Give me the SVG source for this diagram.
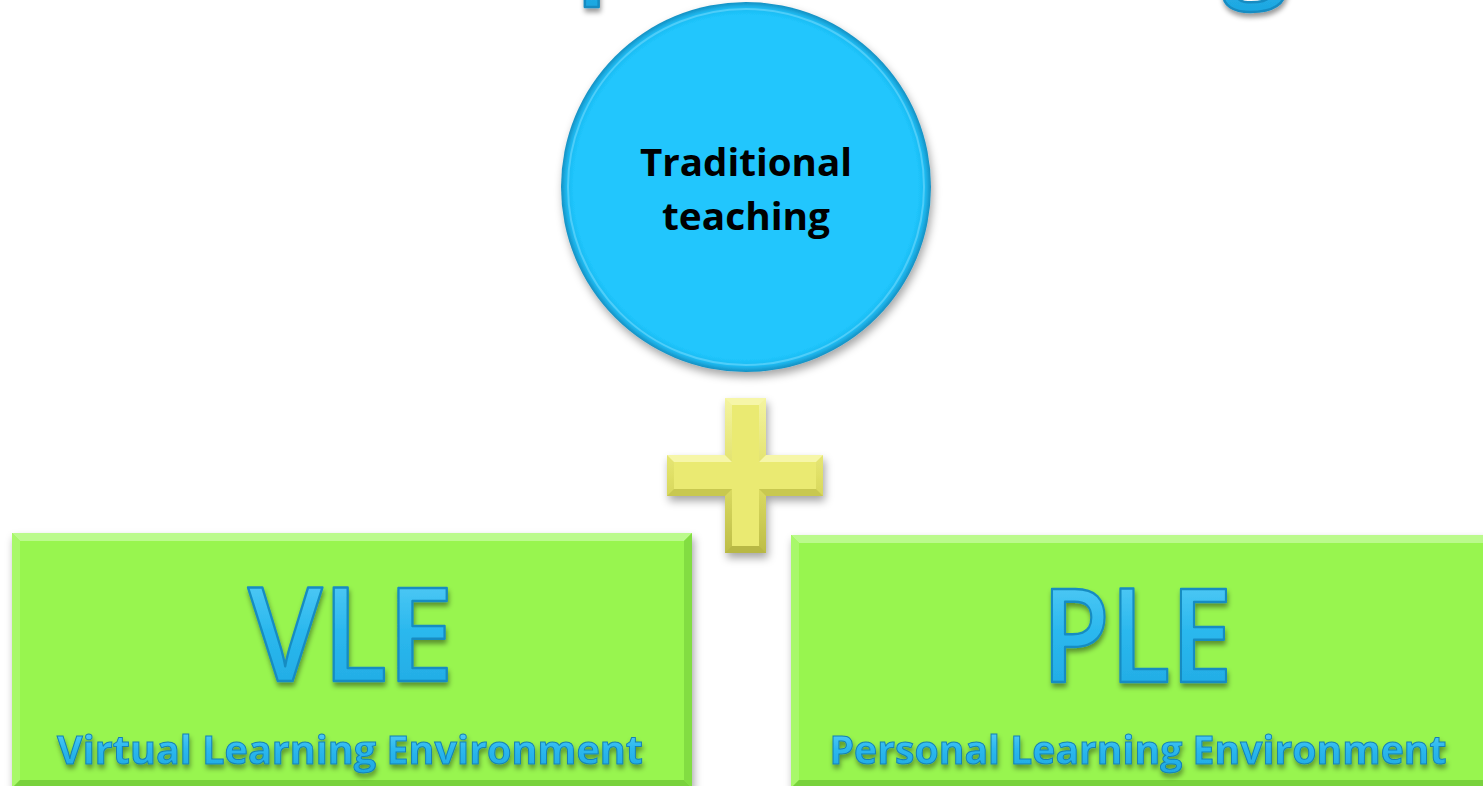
<svg xmlns="http://www.w3.org/2000/svg" width="1483" height="786" viewBox="0 0 1483 786">
<defs>
<filter id="shadow" x="-10%" y="-10%" width="120%" height="125%">
<feDropShadow dx="2" dy="5" stdDeviation="4" flood-color="#000" flood-opacity="0.35"/>
</filter>
<filter id="tshadow" x="-10%" y="-20%" width="120%" height="150%">
<feDropShadow dx="1" dy="4" stdDeviation="2.5" flood-color="#000" flood-opacity="0.4"/>
</filter>
<radialGradient id="ballGrad" cx="50%" cy="50%" r="50%">
<stop offset="0" stop-color="#20C6FD"/>
<stop offset="0.93" stop-color="#20C6FD"/>
<stop offset="0.97" stop-color="#1DB9F0"/>
<stop offset="1" stop-color="#1690C2"/>
</radialGradient>
<linearGradient id="txtGrad" x1="0" y1="0" x2="0" y2="1">
<stop offset="0" stop-color="#6AD6FA"/>
<stop offset="0.5" stop-color="#2BB8EE"/>
<stop offset="1" stop-color="#1DA6E0"/>
</linearGradient>
<linearGradient id="plusEdge" x1="0" y1="0" x2="0" y2="1">
<stop offset="0" stop-color="#F4F4A0"/>
<stop offset="0.5" stop-color="#E0E066"/>
<stop offset="1" stop-color="#BDBD48"/>
</linearGradient>
<style>
.box{fill:#98F54F;}
.bevHi{fill:#BBFA8C;}
.bevLo{fill:#79D23C;}
.bevL{fill:#A8F86A;}
.bevR{fill:#82DD42;}
.big{font-family:"Open Sans","Liberation Sans",sans-serif;font-weight:600;fill:url(#txtGrad);stroke:#178CC2;stroke-width:2.5;stroke-linejoin:round;filter:url(#tshadow);}
.sub{font-family:"Open Sans","Liberation Sans",sans-serif;font-weight:bold;fill:url(#txtGrad);stroke:#1480B5;stroke-width:1;filter:url(#tshadow);}
.lbl{font-family:"Open Sans","Liberation Sans",sans-serif;font-weight:bold;font-size:38px;fill:#000;}
</style>
</defs>
<rect width="1483" height="786" fill="#fff"/>

<g id="title-fragment">
<text class="big" x="575" y="-22" font-size="120">p</text>
<text class="big" x="1222" y="-17" font-size="120">g</text>
</g>

<g id="connectors"></g>

<g id="node-traditional">
<circle cx="746" cy="187" r="185" fill="url(#ballGrad)" filter="url(#shadow)"/>
<circle cx="746" cy="187" r="178" fill="none" stroke="#7FE0FF" stroke-width="2" stroke-opacity="0.5"/>
<text class="lbl" x="746" y="176" text-anchor="middle" textLength="212" lengthAdjust="spacingAndGlyphs">Traditional</text>
<text class="lbl" x="746" y="230" text-anchor="middle" textLength="168" lengthAdjust="spacingAndGlyphs">teaching</text>
</g>

<g id="node-plus">
<path d="M725 398 H766 V455 H823 V496 H766 V553 H725 V496 H667 V455 H725 Z" fill="url(#plusEdge)" filter="url(#shadow)"/>
<path d="M732 405 H759 V462 H816 V489 H759 V546 H732 V489 H674 V462 H732 Z" fill="#EAEA72"/>
<path d="M725 398 H766 L759 405 H732 Z" fill="#F6F6A8"/>
<path d="M667 455 H725 L732 462 H674 Z" fill="#F6F6A8"/>
<path d="M766 455 H823 L816 462 H759 Z" fill="#F6F6A8"/>
<path d="M725 553 H766 L759 546 H732 Z" fill="#B8B845"/>
<path d="M667 496 H725 L732 489 H674 Z" fill="#C8C850"/>
<path d="M766 496 H823 L816 489 H759 Z" fill="#C8C850"/>
</g>

<g id="node-vle">
<rect class="box" x="12" y="533" width="680" height="255" filter="url(#shadow)"/>
<polygon class="bevHi" points="12,533 692,533 684,541 20,541"/>
<polygon class="bevL" points="12,533 20,541 20,780 12,788"/>
<polygon class="bevR" points="692,533 692,788 684,780 684,541"/>
<polygon class="bevLo" points="12,788 692,788 684,780 20,780"/>
<rect x="20" y="541" width="664" height="239" class="box"/>
<text class="big" x="351" y="681" font-size="130" text-anchor="middle" textLength="206" lengthAdjust="spacingAndGlyphs">VLE</text>
<text class="sub" x="350" y="764" font-size="40" text-anchor="middle" textLength="586" lengthAdjust="spacingAndGlyphs">Virtual Learning Environment</text>
</g>

<g id="node-ple">
<rect class="box" x="791" y="535" width="700" height="253" filter="url(#shadow)"/>
<polygon class="bevHi" points="791,535 1491,535 1483,543 799,543"/>
<polygon class="bevL" points="791,535 799,543 799,780 791,788"/>
<polygon class="bevLo" points="791,788 1491,788 1483,780 799,780"/>
<rect x="799" y="543" width="692" height="237" class="box"/>
<text class="big" x="1137" y="682" font-size="130" text-anchor="middle" textLength="191" lengthAdjust="spacingAndGlyphs">PLE</text>
<text class="sub" x="1138" y="764" font-size="40" text-anchor="middle" textLength="617" lengthAdjust="spacingAndGlyphs">Personal Learning Environment</text>
</g>
</svg>
